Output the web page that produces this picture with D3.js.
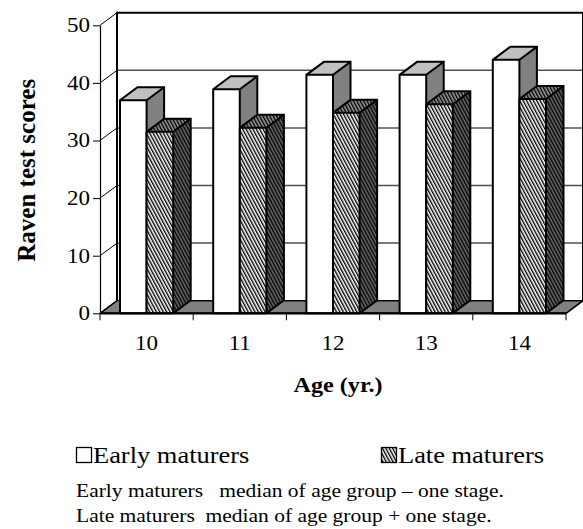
<!DOCTYPE html>
<html>
<head>
<meta charset="utf-8">
<script src="https://cdn.jsdelivr.net/npm/d3@7"></script>
<style>
  html, body { margin: 0; padding: 0; background: #fff; }
  svg { display: block; }
  text { font-family: "Liberation Serif", "Times New Roman", serif; fill: #000; }
</style>
</head>
<body>
<svg id="chart" width="583" height="529"></svg>
<script>
// Raven test scores by age, early vs late maturers
const ages = ["10", "11", "12", "13", "14"];
const seriesNames = ["Early maturers", "Late maturers"];
const earlyScores = [37.0, 38.9, 41.4, 41.4, 44.0];
const lateScores = [31.5, 32.2, 34.8, 36.3, 37.2];
const yTicks = [0, 10, 20, 30, 40, 50];
const notes = [
  "Early maturers   median of age group \u2013 one stage.",
  "Late maturers  median of age group + one stage."
];

const svg = d3.select("#chart");
const serif = '"Liberation Serif", "Times New Roman", serif';
const stretch = 1.15; // horizontal widening of the type

// front plane of the 3-D box
const plotL = 100, plotR = 566, plotT = 25.3, plotB = 313.3;
// depth offset of the back wall
const dX = 17, dY = -12.6;
// depth offset of the columns
const bX = 17.5, bY = -13;

const x = d3.scaleBand().domain(ages).range([plotL, plotR]).padding(0);
const y = d3.scaleLinear().domain([0, 50]).range([plotB, plotT]);
const half = 26.6;
const xs = d3.scaleBand().domain(seriesNames)
  .range([x.bandwidth() / 2 - half, x.bandwidth() / 2 + half]).padding(0);

// hatch patterns
const defs = svg.append("defs");
function hatch(id, bg) {
  const p = defs.append("pattern")
    .attr("id", id).attr("patternUnits", "userSpaceOnUse")
    .attr("width", 3).attr("height", 3)
    .attr("patternTransform", "rotate(-28)");
  p.append("rect").attr("width", 3).attr("height", 3).attr("fill", bg);
  p.append("rect").attr("width", 1.4).attr("height", 3).attr("fill", "#000");
}
hatch("hatchFront", "#fff");
hatch("hatchTop", "#9a9a9a");
hatch("hatchSide", "#6a6a6a");

const styles = {
  "Early maturers": { front: "#fff", top: "#c0c0c0", side: "#808080" },
  "Late maturers": { front: "url(#hatchFront)", top: "url(#hatchTop)", side: "url(#hatchSide)" }
};

const pts = a => a.map(p => p.join(",")).join(" ");

// back wall
svg.append("rect")
  .attr("x", plotL + dX).attr("y", plotT + dY)
  .attr("width", plotR - plotL).attr("height", plotB - plotT)
  .attr("fill", "#fff");

// gridlines on back wall and guide lines on the side wall
const grid = svg.append("g");
yTicks.filter(v => v > 0 && v < 50).forEach(v => {
  grid.append("line")
    .attr("x1", plotL + dX).attr("x2", plotR + dX)
    .attr("y1", y(v) + dY).attr("y2", y(v) + dY)
    .attr("stroke", "#505050").attr("stroke-width", 1.5);
});
yTicks.forEach(v => {
  grid.append("line")
    .attr("x1", plotL).attr("y1", y(v))
    .attr("x2", plotL + dX).attr("y2", y(v) + dY)
    .attr("stroke", "#000").attr("stroke-width", 1);
});

// back wall outline
svg.append("polyline")
  .attr("points", pts([[plotL + dX, plotB + dY], [plotL + dX, plotT + dY], [plotR + dX, plotT + dY], [plotR + dX, plotB + dY]]))
  .attr("fill", "none").attr("stroke", "#000").attr("stroke-width", 2);

// floor
svg.append("polygon")
  .attr("points", pts([[plotL, plotB], [plotL + dX, plotB + dY], [plotR + dX, plotB + dY], [plotR, plotB]]))
  .attr("fill", "#808080").attr("stroke", "#000").attr("stroke-width", 1.5)
  .attr("stroke-linejoin", "round");

// columns
const data = [];
ages.forEach((a, i) => {
  data.push({ age: a, series: seriesNames[0], value: earlyScores[i] });
  data.push({ age: a, series: seriesNames[1], value: lateScores[i] });
});

const bars = svg.append("g").selectAll("g").data(data).join("g");
bars.each(function (d) {
  const g = d3.select(this);
  const x0 = x(d.age) + xs(d.series), x1 = x0 + xs.bandwidth();
  const y0 = plotB, y1 = y(d.value);
  const st = styles[d.series];
  g.append("polygon")
    .attr("points", pts([[x1, y0], [x1 + bX, y0 + bY], [x1 + bX, y1 + bY], [x1, y1]]))
    .attr("fill", st.side);
  g.append("polygon")
    .attr("points", pts([[x0, y1], [x0 + bX, y1 + bY], [x1 + bX, y1 + bY], [x1, y1]]))
    .attr("fill", st.top);
  g.append("rect")
    .attr("x", x0).attr("y", y1).attr("width", x1 - x0).attr("height", y0 - y1)
    .attr("fill", st.front);
  g.append("path")
    .attr("d", `M${x0},${y0}V${y1}L${x0 + bX},${y1 + bY}H${x1 + bX}V${y0 + bY}L${x1},${y0}Z` +
      `M${x0},${y1}H${x1}L${x1 + bX},${y1 + bY}M${x1},${y1}V${y0}`)
    .attr("fill", "none").attr("stroke", "#000").attr("stroke-width", 2)
    .attr("stroke-linejoin", "miter");
});

// front baseline
svg.append("line")
  .attr("x1", plotL).attr("x2", plotR).attr("y1", plotB).attr("y2", plotB)
  .attr("stroke", "#000").attr("stroke-width", 2.2);

// widen a text element horizontally about its anchor point
function widen(sel) {
  sel.each(function () {
    const t = d3.select(this);
    const tx = +t.attr("x") || 0, ty = +t.attr("y") || 0;
    t.attr("transform", `translate(${tx},${ty}) scale(${stretch},1)`).attr("x", 0).attr("y", 0);
  });
}

// y axis
const yAxis = svg.append("g")
  .attr("transform", `translate(${plotL},0)`)
  .call(d3.axisLeft(y).tickValues(yTicks).tickSize(7).tickPadding(3).tickSizeOuter(0));
yAxis.select(".domain").attr("stroke", "#000").attr("stroke-width", 1.2);
yAxis.selectAll(".tick line").attr("stroke", "#000");
yAxis.selectAll("text")
  .style("font-family", serif).style("font-size", "20px")
  .call(widen);

// x axis: labels at band centres, ticks at band edges
const xAxis = svg.append("g")
  .attr("transform", `translate(0,${plotB})`)
  .call(d3.axisBottom(x).tickSize(0).tickPadding(22));
xAxis.select(".domain").remove();
xAxis.selectAll("text")
  .style("font-family", serif).style("font-size", "20px")
  .call(widen);
const edges = ages.map(a => x(a)).concat([x(ages[ages.length - 1]) + x.bandwidth()]);
svg.append("g").selectAll("line").data(edges).join("line")
  .attr("x1", d => d).attr("x2", d => d)
  .attr("y1", plotB).attr("y2", plotB + 7)
  .attr("stroke", "#000").attr("stroke-width", 1);

// axis titles
svg.append("text")
  .attr("transform", `translate(35,${(plotT + plotB) / 2 + 1}) rotate(-90)`)
  .attr("text-anchor", "middle")
  .style("font-size", "25px").style("font-weight", "bold")
  .text("Raven test scores");
svg.append("text")
  .attr("x", 338).attr("y", 392)
  .attr("text-anchor", "middle")
  .style("font-size", "21px").style("font-weight", "bold")
  .text("Age (yr.)")
  .call(widen);

// legend
const legendX = [76, 381];
const legend = svg.append("g").selectAll("g").data(seriesNames).join("g")
  .attr("transform", (d, i) => `translate(${legendX[i]},447)`);
legend.append("rect")
  .attr("x", 0.5).attr("y", 0.5).attr("width", 15).attr("height", 15)
  .attr("fill", d => styles[d].front)
  .attr("stroke", "#000").attr("stroke-width", 1.3);
legend.append("text")
  .attr("x", 17).attr("y", 15.5)
  .style("font-size", "23px")
  .text(d => d)
  .call(widen);

// notes under the legend
svg.append("g").selectAll("text").data(notes).join("text")
  .attr("x", 76).attr("y", (d, i) => 497 + i * 25)
  .attr("xml:space", "preserve")
  .style("white-space", "pre")
  .style("font-size", "18.7px")
  .text(d => d)
  .call(widen);
</script>
</body>
</html>
